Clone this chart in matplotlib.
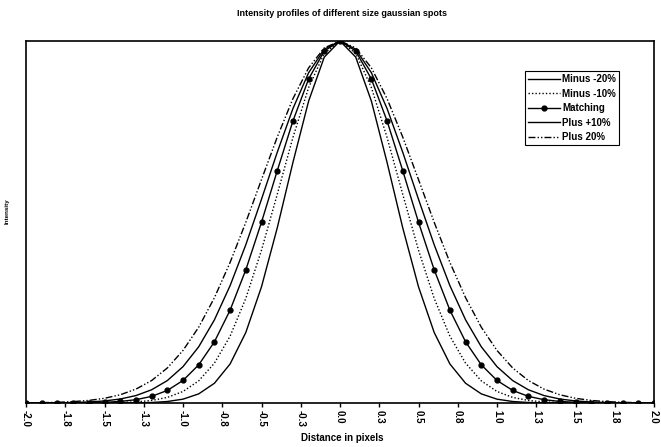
import numpy as np
import matplotlib
matplotlib.use("Agg")
import matplotlib.pyplot as plt

plt.rcParams['font.family'] = ['Liberation Sans', 'DejaVu Sans']
plt.rcParams['font.weight'] = 'bold'

# distance in pixels, sampled every 0.1 from -2 to 2
distance = np.linspace(-2.0, 2.0, 41)

# intensity (normalised, peak = 1)
minus_20 = [0.0, 0.0, 0.0, 0.0, 0.0, 0.0, 0.0001, 0.0005, 0.0014, 0.0041,
            0.0106, 0.0252, 0.0545, 0.1078, 0.1947, 0.3210, 0.4832, 0.6642, 0.8338, 0.9556,
            1.0,
            0.9556, 0.8338, 0.6642, 0.4832, 0.3210, 0.1947, 0.1078, 0.0545, 0.0252, 0.0106,
            0.0041, 0.0014, 0.0005, 0.0001, 0.0, 0.0, 0.0, 0.0, 0.0, 0.0]
minus_10 = [0.0, 0.0, 0.0, 0.0, 0.0001, 0.0004, 0.0012, 0.0029, 0.0070, 0.0154,
            0.0318, 0.0612, 0.1100, 0.1846, 0.2890, 0.4223, 0.5759, 0.7332, 0.8712, 0.9661,
            1.0,
            0.9661, 0.8712, 0.7332, 0.5759, 0.4223, 0.2890, 0.1846, 0.1100, 0.0612, 0.0318,
            0.0154, 0.0070, 0.0029, 0.0012, 0.0004, 0.0001, 0.0, 0.0, 0.0, 0.0]
matching = [0.0, 0.0, 0.0001, 0.0003, 0.0008, 0.0019, 0.0043, 0.0091, 0.0183, 0.0347,
            0.0622, 0.1054, 0.1690, 0.2564, 0.3679, 0.4994, 0.6412, 0.7788, 0.8948, 0.9726,
            1.0,
            0.9726, 0.8948, 0.7788, 0.6412, 0.4994, 0.3679, 0.2564, 0.1690, 0.1054, 0.0622,
            0.0347, 0.0183, 0.0091, 0.0043, 0.0019, 0.0008, 0.0003, 0.0001, 0.0, 0.0]
plus_10 = [0.0001, 0.0002, 0.0006, 0.0013, 0.0028, 0.0057, 0.0110, 0.0205, 0.0365, 0.0619,
           0.1004, 0.1553, 0.2296, 0.3242, 0.4371, 0.5629, 0.6922, 0.8131, 0.9122, 0.9773,
           1.0,
           0.9773, 0.9122, 0.8131, 0.6922, 0.5629, 0.4371, 0.3242, 0.2296, 0.1553, 0.1004,
           0.0619, 0.0365, 0.0205, 0.0110, 0.0057, 0.0028, 0.0013, 0.0006, 0.0002, 0.0001]
plus_20 = [0.0004, 0.0009, 0.0019, 0.0038, 0.0071, 0.0130, 0.0227, 0.0383, 0.0620, 0.0967,
           0.1451, 0.2094, 0.2907, 0.3883, 0.4991, 0.6172, 0.7342, 0.8405, 0.9257, 0.9809,
           1.0,
           0.9809, 0.9257, 0.8405, 0.7342, 0.6172, 0.4991, 0.3883, 0.2907, 0.2094, 0.1451,
           0.0967, 0.0620, 0.0383, 0.0227, 0.0130, 0.0071, 0.0038, 0.0019, 0.0009, 0.0004]

tick_pos = np.arange(-2.0, 2.01, 0.25)
tick_labels = ["-2.0", "-1.8", "-1.5", "-1.3", "-1.0", "-0.8", "-0.5", "-0.3", "0.0",
               "0.3", "0.5", "0.8", "1.0", "1.3", "1.5", "1.8", "2.0"]

fig = plt.figure(figsize=(6.61, 4.47), dpi=100)
ax = fig.add_axes([26 / 661, 1 - 403 / 447, 628 / 661, 362 / 447])

ax.plot(distance, minus_20, color='black', lw=1.0, label="Minus -20%")
ax.plot(distance, minus_10, color='black', lw=1.0, linestyle=(0, (1, 1.5)), label="Minus -10%")
ax.plot(distance, matching, color='black', lw=1.0, marker='o', markersize=3.5, label="Matching")
ax.plot(distance, plus_10, color='black', lw=1.0, label="Plus +10%")
ax.plot(distance, plus_20, color='black', lw=1.0,
        linestyle=(0, (5, 1.5, 1, 1.5, 1, 1.5)), label="Plus 20%")

ax.set_xlim(-2.0, 2.0)
ax.set_ylim(0, 1.0)
ax.set_xticks(tick_pos)
ax.set_xticklabels(tick_labels, rotation=-90, fontsize=7, fontweight='bold')
ax.set_yticks([])
ax.tick_params(axis='x', direction='out', length=3, width=1, pad=2)
for s in ax.spines.values():
    s.set_linewidth(1.2)
    s.set_color('black')

leg = ax.legend(loc='upper right', bbox_to_anchor=(0.945, 0.917), fontsize=7,
                frameon=True, fancybox=False, edgecolor='black', framealpha=1,
                handlelength=3.3, handletextpad=0.2, labelspacing=0.45,
                borderpad=0.35, borderaxespad=0)
leg.get_frame().set_linewidth(0.8)
for t in leg.get_texts():
    t.set_fontweight('bold')

fig.text(342 / 661, 1 - 13 / 447, "Intensity profiles of different size gaussian spots",
         ha='center', va='center', fontsize=6.5, fontweight='bold')
fig.text(342 / 661, 1 - 438 / 447, "Distance in pixels",
         ha='center', va='center', fontsize=7, fontweight='bold')
fig.text(7 / 661, 1 - 211 / 447, "Intensity", rotation=90,
         ha='center', va='center', fontsize=4.5, fontweight='bold')

fig.savefig("out.png", dpi=100)
